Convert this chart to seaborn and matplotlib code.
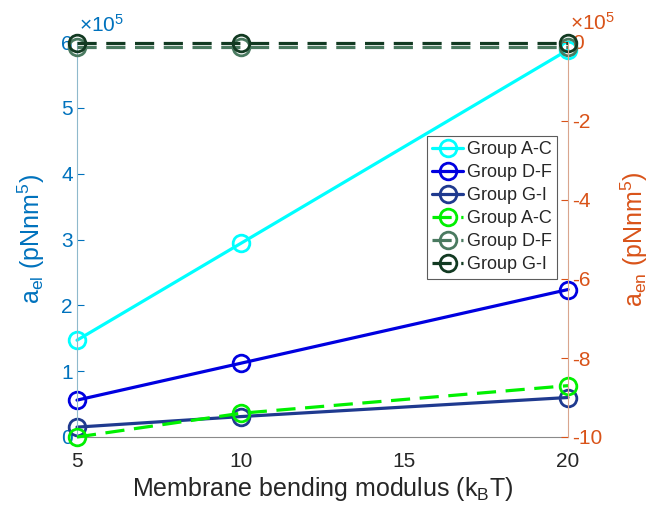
import matplotlib
matplotlib.use("Agg")
import matplotlib.pyplot as plt
import seaborn as sns
import numpy as np

sns.set_style("white")
plt.rcParams["font.family"] = ["Liberation Sans", "DejaVu Sans"]
plt.rcParams["mathtext.fontset"] = "custom"
plt.rcParams["mathtext.rm"] = "Liberation Sans"
plt.rcParams["mathtext.it"] = "Liberation Sans"

# Bending modulus (k_B T)
kappa = [5, 10, 20]

# Elastic coefficient a_el (pN nm^5), left axis
el_ac = [1.47e5, 2.94e5, 5.88e5]
el_df = [0.56e5, 1.12e5, 2.24e5]
el_gi = [0.15e5, 0.31e5, 0.60e5]

# Energy coefficient a_en (pN nm^5), right axis
en_ac = [-10.0e5, -9.4e5, -8.7e5]
en_df = [-0.13e5, -0.13e5, -0.13e5]
en_gi = [-0.03e5, -0.03e5, -0.03e5]

labels = ["Group A-C", "Group D-F", "Group G-I"]
el_colors = ["#00ffff", "#0000e0", "#1f3a8f"]
en_colors = ["#00f000", "#4a7a60", "#123a22"]

left_col = "#0072bd"
right_col = "#d95319"

fig = plt.figure(figsize=(6.55, 5.07), dpi=100)
ax = fig.add_axes([77 / 655, 1 - 437 / 507, 491 / 655, 395 / 507])
ax2 = ax.twinx()

mk = dict(marker="o", markersize=12, markerfacecolor="none", markeredgewidth=2.0,
          linewidth=2.3, clip_on=False)

for vals, lab, col in zip([el_ac, el_df, el_gi], labels, el_colors):
    sns.lineplot(x=kappa, y=vals, ax=ax, color=col, markeredgecolor=col,
                 label=lab, legend=False, **mk)

for vals, lab, col in zip([en_ac, en_df, en_gi], labels, en_colors):
    sns.lineplot(x=kappa, y=vals, ax=ax2, color=col, markeredgecolor=col,
                 label=lab, legend=False, linestyle=(0, (6, 3)), **mk)

ax.set_xlim(5, 20)
ax.set_ylim(0, 6e5)
ax2.set_ylim(-10e5, 0)
ax.set_xticks([5, 10, 15, 20])
ax.set_yticks(np.arange(0, 7) * 1e5)
ax.set_yticklabels([str(i) for i in range(7)])
ax2.set_yticks(np.arange(-10, 1, 2) * 1e5)
ax2.set_yticklabels([str(i) for i in range(-10, 1, 2)])

fs = 15
lfs = 18
ax.tick_params(axis="x", direction="in", length=4, colors="#262626", labelsize=fs, pad=11)
ax.tick_params(axis="y", direction="in", length=5, colors=left_col, labelsize=fs, pad=3)
ax2.tick_params(axis="y", direction="in", length=5, colors=right_col, labelsize=fs, pad=3)

for a in (ax, ax2):
    a.spines["top"].set_visible(False)
    a.set_facecolor("none")
ax.spines["left"].set_color("#8fb9cc")
ax.spines["bottom"].set_color("#8a8a8a")
ax.spines["right"].set_visible(False)
ax2.spines["left"].set_visible(False)
ax2.spines["bottom"].set_visible(False)
ax2.spines["right"].set_color("#d9a58e")

ax.set_xlabel(r"Membrane bending modulus (k$_\mathrm{B}$T)", fontsize=lfs, color="#262626",
              labelpad=3)
ax.set_ylabel(r"a$_\mathrm{el}$ (pNnm$^5$)", fontsize=lfs, color=left_col, labelpad=10)
ax2.set_ylabel(r"a$_\mathrm{en}$ (pNnm$^5$)", fontsize=lfs, color=right_col, labelpad=12)

ax.text(0.005, 1.015, r"$\times$10$^5$", transform=ax.transAxes, color=left_col,
        fontsize=fs, ha="left", va="bottom")
ax2.text(1.005, 1.02, r"$\times$10$^5$", transform=ax2.transAxes, color=right_col,
         fontsize=fs, ha="left", va="bottom")

h1, l1 = ax.get_legend_handles_labels()
h2, l2 = ax2.get_legend_handles_labels()
leg = ax2.legend(h1 + h2, l1 + l2, loc="upper left", bbox_to_anchor=(0.713, 0.762),
                 borderaxespad=0, fontsize=13, frameon=True, fancybox=False,
                 handlelength=1.7, handletextpad=0.2, labelspacing=0.33,
                 borderpad=0.3)
leg.get_frame().set_edgecolor("#333333")
leg.get_frame().set_linewidth(0.8)

fig.savefig("out.png", dpi=100)
